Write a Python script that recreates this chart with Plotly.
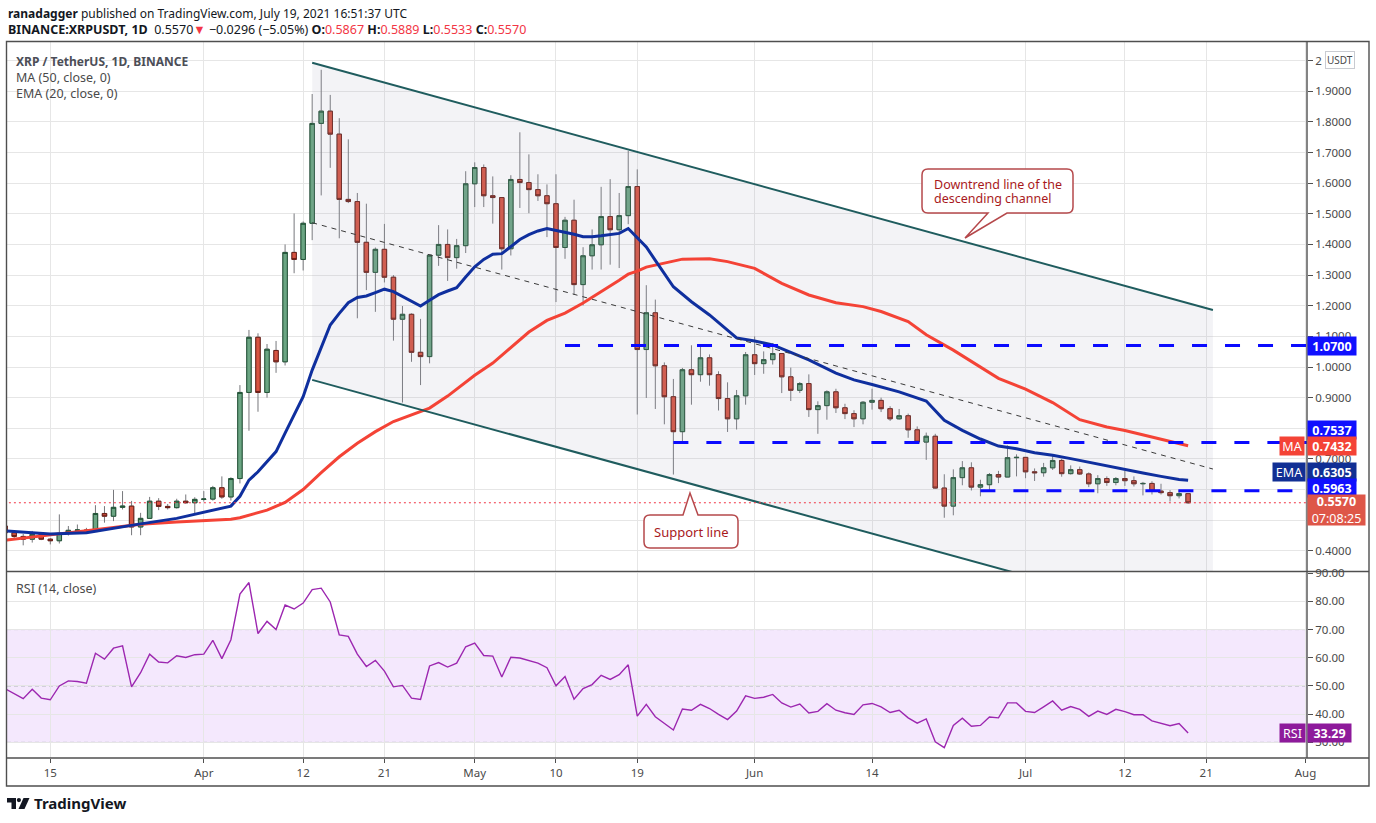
import pandas as pd
import plotly.graph_objects as go

# daily candles BINANCE:XRPUSDT, 2021-03-10 .. 2021-07-19
opens = [
    0.481, 0.459, 0.447, 0.438, 0.454, 0.438, 0.433, 0.457, 0.467, 0.468, 0.463,
    0.522, 0.513, 0.542, 0.546, 0.478, 0.506, 0.562, 0.545, 0.541, 0.562, 0.557,
    0.568, 0.569, 0.606, 0.576, 0.636, 0.917, 1.097, 0.917, 1.054, 1.017, 1.374,
    1.351, 1.469, 1.795, 1.835, 1.760, 1.547, 1.540, 1.407, 1.309, 1.384, 1.293,
    1.156, 1.172, 1.048, 1.034, 1.365, 1.400, 1.357, 1.396,
    1.598, 1.651, 1.559, 1.553, 1.386, 1.612, 1.602, 1.579, 1.559, 1.533, 1.390,
    1.479, 1.269, 1.363, 1.399, 1.491, 1.448, 1.494, 1.589, 1.057, 1.177, 1.004,
    0.903, 0.789, 0.991, 0.975, 1.030, 0.975, 0.897, 0.831, 0.906,
    1.040, 1.011, 1.024, 1.044, 0.968, 0.924, 0.946, 0.861, 0.874, 0.919, 0.867,
    0.848, 0.831, 0.885, 0.891, 0.864, 0.831, 0.841, 0.795, 0.755, 0.774, 0.605,
    0.546, 0.639, 0.671, 0.608, 0.616, 0.649, 0.641, 0.704,
    0.705, 0.658, 0.655, 0.671, 0.695, 0.652, 0.665, 0.651, 0.619, 0.636, 0.623,
    0.636, 0.629, 0.619, 0.620, 0.595, 0.590, 0.580, 0.5867,
]
highs = [
    0.488, 0.465, 0.455, 0.465, 0.460, 0.442, 0.519, 0.481, 0.486, 0.475, 0.549,
    0.546, 0.599, 0.595, 0.563, 0.524, 0.576, 0.572, 0.553, 0.570, 0.584, 0.575,
    0.595, 0.612, 0.643, 0.640, 0.941, 1.121, 1.110, 1.075, 1.085, 1.400, 1.501,
    1.475, 1.891, 1.970, 1.888, 1.812, 1.743, 1.568, 1.533, 1.390, 1.467, 1.300,
    1.199, 1.175, 1.157, 1.365, 1.463, 1.449, 1.418, 1.639,
    1.668, 1.661, 1.622, 1.553, 1.626, 1.766, 1.694, 1.629, 1.596, 1.629, 1.490,
    1.546, 1.391, 1.449, 1.588, 1.613, 1.568, 1.705, 1.645, 1.267, 1.220, 1.015,
    0.961, 0.997, 1.071, 1.071, 1.041, 0.986, 0.950, 0.925, 1.049,
    1.100, 1.051, 1.078, 1.044, 0.998, 0.951, 0.976, 0.888, 0.924, 0.929, 0.880,
    0.859, 0.889, 0.929, 0.900, 0.872, 0.863, 0.848, 0.806, 0.786, 0.782, 0.650,
    0.666, 0.693, 0.689, 0.632, 0.654, 0.661, 0.744, 0.715,
    0.705, 0.669, 0.687, 0.714, 0.700, 0.679, 0.675, 0.656, 0.647, 0.643, 0.641,
    0.661, 0.643, 0.625, 0.627, 0.619, 0.598, 0.600, 0.5889,
]
lows = [
    0.452, 0.440, 0.418, 0.427, 0.435, 0.421, 0.424, 0.450, 0.460, 0.455, 0.463,
    0.492, 0.497, 0.535, 0.451, 0.451, 0.506, 0.533, 0.535, 0.538, 0.554, 0.522,
    0.561, 0.564, 0.570, 0.564, 0.620, 0.792, 0.854, 0.900, 0.981, 1.005, 1.306,
    1.315, 1.414, 1.560, 1.650, 1.420, 1.535, 1.159, 1.251, 1.180, 1.276, 1.086,
    0.884, 1.017, 0.941, 1.012, 1.330, 1.281, 1.321, 1.372,
    1.522, 1.522, 1.468, 1.318, 1.364, 1.519, 1.502, 1.542, 1.424, 1.212, 1.353,
    1.235, 1.201, 1.318, 1.318, 1.334, 1.323, 1.466, 0.845, 0.899, 0.863, 0.813,
    0.649, 0.758, 0.877, 0.952, 0.939, 0.858, 0.788, 0.796, 0.877,
    0.974, 0.978, 1.008, 0.915, 0.889, 0.915, 0.837, 0.782, 0.828, 0.850, 0.830,
    0.804, 0.813, 0.861, 0.853, 0.824, 0.828, 0.769, 0.752, 0.697, 0.603, 0.508,
    0.516, 0.614, 0.597, 0.578, 0.594, 0.621, 0.641, 0.643,
    0.637, 0.628, 0.642, 0.664, 0.642, 0.649, 0.648, 0.608, 0.588, 0.612, 0.614,
    0.612, 0.610, 0.581, 0.584, 0.584, 0.561, 0.571, 0.5533,
]
closes = [
    0.459, 0.447, 0.438, 0.454, 0.438, 0.433, 0.457, 0.467, 0.468, 0.463, 0.522,
    0.513, 0.542, 0.546, 0.478, 0.506, 0.562, 0.545, 0.541, 0.562, 0.557, 0.568,
    0.569, 0.606, 0.576, 0.636, 0.917, 1.097, 0.917, 1.058, 1.017, 1.374, 1.351,
    1.469, 1.795, 1.835, 1.760, 1.547, 1.540, 1.407, 1.309, 1.384, 1.293, 1.156,
    1.172, 1.048, 1.034, 1.365, 1.400, 1.357, 1.396, 1.598,
    1.651, 1.559, 1.553, 1.386, 1.612, 1.602, 1.579, 1.559, 1.533, 1.390, 1.479,
    1.269, 1.363, 1.399, 1.491, 1.448, 1.494, 1.589, 1.057, 1.177, 1.004, 0.903,
    0.789, 0.991, 0.975, 1.030, 0.975, 0.897, 0.831, 0.906, 1.040,
    1.011, 1.024, 1.044, 0.968, 0.924, 0.946, 0.861, 0.874, 0.919, 0.867, 0.848,
    0.831, 0.885, 0.891, 0.864, 0.831, 0.841, 0.795, 0.755, 0.774, 0.605, 0.546,
    0.639, 0.671, 0.608, 0.616, 0.649, 0.641, 0.704, 0.705,
    0.658, 0.655, 0.671, 0.695, 0.652, 0.665, 0.651, 0.619, 0.636, 0.623, 0.636,
    0.629, 0.619, 0.620, 0.595, 0.590, 0.580, 0.587, 0.5570,
]
rsi_values = [
    49.0, 47.2, 45.5, 48.8, 45.7, 45.1, 50.0, 51.8, 51.6, 51.0, 61.6, 59.5, 63.4,
    64.2, 49.7, 54.7, 61.3, 58.5, 58.2, 60.7, 60.1, 61.1,
    61.3, 66.2, 59.7, 66.4, 82.6, 86.7, 68.6, 72.9, 70.0, 78.7, 77.3, 79.4, 84.2,
    84.7, 79.8, 68.1, 67.6, 61.3, 56.9, 59.1, 55.3, 49.7, 50.2, 45.7, 45.2, 57.1,
    58.3, 56.7, 58.1, 63.9,
    65.2, 60.8, 60.6, 53.2, 60.2, 59.9, 59.0, 58.1, 56.5, 50.1, 53.4, 45.3, 49.1,
    50.5, 53.8, 52.3, 54.0, 57.5, 39.3, 43.5, 39.1, 36.7, 34.4, 41.8, 41.4, 43.5,
    42.0, 39.9, 38.1, 41.1, 46.5,
    45.6, 46.0, 47.0, 44.0, 42.5, 43.6, 40.4, 41.0, 43.7, 41.4, 40.5, 39.9, 43.3,
    43.8, 42.6, 40.6, 41.4, 38.7, 36.8, 38.3, 30.2, 28.1, 36.0, 38.6, 35.7, 36.0,
    39.0, 38.7, 44.0, 44.0,
    41.0, 40.6, 42.6, 44.7, 41.4, 42.7, 41.7, 39.2, 41.1, 39.9, 41.7, 40.9, 39.8,
    39.8, 37.6, 36.7, 35.9, 36.7, 33.29,
]
dates = pd.date_range("2021-03-10", "2021-07-19", freq="D")

# EMA 20 and MA 50 as drawn on the chart
ema_dates = [
    "2021-03-10", "2021-03-15", "2021-03-19", "2021-03-22", "2021-03-25", "2021-03-29",
    "2021-04-01", "2021-04-04", "2021-04-05", "2021-04-06", "2021-04-07", "2021-04-09",
    "2021-04-10", "2021-04-11", "2021-04-12", "2021-04-13", "2021-04-14", "2021-04-15",
    "2021-04-16", "2021-04-17", "2021-04-18", "2021-04-19", "2021-04-20", "2021-04-21",
    "2021-04-22", "2021-04-23", "2021-04-24", "2021-04-25", "2021-04-26", "2021-04-27",
    "2021-04-28", "2021-04-29", "2021-04-30", "2021-05-01", "2021-05-02", "2021-05-03",
    "2021-05-04", "2021-05-05", "2021-05-06", "2021-05-07", "2021-05-08", "2021-05-09",
    "2021-05-10", "2021-05-11", "2021-05-12", "2021-05-13", "2021-05-14", "2021-05-15",
    "2021-05-16", "2021-05-17", "2021-05-18", "2021-05-19", "2021-05-20", "2021-05-21",
    "2021-05-22", "2021-05-23", "2021-05-25", "2021-05-27", "2021-05-30", "2021-06-01",
    "2021-06-03", "2021-06-07", "2021-06-10", "2021-06-12", "2021-06-14", "2021-06-17",
    "2021-06-20", "2021-06-22", "2021-06-24", "2021-06-26", "2021-06-28", "2021-06-30",
    "2021-07-02", "2021-07-04", "2021-07-06", "2021-07-08", "2021-07-10", "2021-07-12",
    "2021-07-14", "2021-07-16", "2021-07-18", "2021-07-19",
]
ema_values = [
    0.465, 0.455, 0.459, 0.474, 0.488, 0.506,
    0.525, 0.546, 0.578, 0.631, 0.658, 0.724,
    0.784, 0.843, 0.903, 0.990, 1.066, 1.137,
    1.175, 1.210, 1.227, 1.232, 1.243, 1.254,
    1.246, 1.230, 1.213, 1.199, 1.218, 1.236,
    1.248, 1.259, 1.294, 1.327, 1.351, 1.368,
    1.370, 1.394, 1.416, 1.432, 1.444, 1.452,
    1.446, 1.438, 1.433, 1.425, 1.425, 1.428,
    1.433, 1.436, 1.452, 1.423, 1.392, 1.348,
    1.305, 1.262, 1.213, 1.170, 1.095, 1.085,
    1.072, 1.023, 0.980, 0.958, 0.943, 0.919,
    0.889, 0.826, 0.793, 0.765, 0.742, 0.733,
    0.720, 0.712, 0.701, 0.689, 0.676, 0.666,
    0.654, 0.643, 0.633, 0.6305,
]
ma_dates = [
    "2021-03-10", "2021-03-15", "2021-03-19", "2021-03-22", "2021-03-25", "2021-03-29",
    "2021-04-01", "2021-04-04", "2021-04-05", "2021-04-06", "2021-04-08", "2021-04-10",
    "2021-04-12", "2021-04-14", "2021-04-16", "2021-04-18", "2021-04-20", "2021-04-22",
    "2021-04-24", "2021-04-26", "2021-04-28", "2021-05-01", "2021-05-03", "2021-05-05",
    "2021-05-07", "2021-05-09", "2021-05-11", "2021-05-13", "2021-05-15", "2021-05-17",
    "2021-05-18", "2021-05-19", "2021-05-20", "2021-05-22", "2021-05-24", "2021-05-27",
    "2021-05-29", "2021-06-01", "2021-06-04", "2021-06-07", "2021-06-10", "2021-06-13",
    "2021-06-15", "2021-06-18", "2021-06-20", "2021-06-23", "2021-06-26", "2021-06-28",
    "2021-07-01", "2021-07-04", "2021-07-07", "2021-07-10", "2021-07-12", "2021-07-14",
    "2021-07-16", "2021-07-18", "2021-07-19",
]
ma_values = [
    0.435, 0.451, 0.466, 0.476, 0.487, 0.494,
    0.499, 0.503, 0.508, 0.517, 0.533, 0.558,
    0.600, 0.655, 0.707, 0.751, 0.789, 0.822,
    0.843, 0.866, 0.905, 0.973, 1.013, 1.065,
    1.114, 1.152, 1.176, 1.209, 1.245, 1.283,
    1.303, 1.313, 1.326, 1.340, 1.352, 1.353,
    1.344, 1.322, 1.273, 1.235, 1.210, 1.197,
    1.181, 1.148, 1.105, 1.055, 1.001, 0.963,
    0.928, 0.884, 0.828, 0.804, 0.793, 0.779,
    0.763, 0.750, 0.7432,
]

# drawings: descending channel, its mid line and the horizontal levels
channel_dates = ["2021-04-13", "2021-07-21 18:00"]
channel_upper = [1.993, 1.186]
channel_lower = [0.958, 0.151]
channel_mid = [1.471, 0.667]
level_values = [1.07, 0.7537, 0.5963]
level_starts = ["2021-05-11", "2021-05-23", "2021-06-26"]
last_price, last_ma, last_ema, last_rsi = 0.5570, 0.7432, 0.6305, 33.29

tick_dates = ["2021-03-15", "2021-04-01", "2021-04-12", "2021-04-21", "2021-05-01",
              "2021-05-10", "2021-05-19", "2021-06-01", "2021-06-14", "2021-07-01",
              "2021-07-12", "2021-07-21", "2021-08-01"]
tick_labels = ["15", "Apr", "12", "21", "May", "10", "19", "Jun", "14", "Jul",
               "12", "21", "Aug"]
price_ticks = [0.4, 0.5, 0.6, 0.7, 0.8, 0.9, 1.0, 1.1, 1.2, 1.3, 1.4, 1.5, 1.6,
               1.7, 1.8, 1.9, 2.0]
# labels that sit under the price-scale boxes are not readable in the chart
price_tick_text = ["0.4000", "", "", "0.7000", "", "0.9000", "1.0000", "1.1000",
                   "1.2000", "1.3000", "1.4000", "1.5000", "1.6000", "1.7000",
                   "1.8000", "1.9000", "2"]
rsi_ticks = [30, 40, 50, 60, 70, 80, 90]

FONT = "Noto Sans"
GRID = "#e6e6e6"
FRAME = "#4f4f4f"
TEXT = "#4a4a4a"
X_RANGE = ["2021-03-10 04:55", "2021-08-01 04:00"]

# page pixels of the plotting area
L_PX, R_PX, T_PX, B_PX = 7, 1307, 42, 758
SPLIT_PX = 571.5


def fx(px):
    return (px - L_PX) / (R_PX - L_PX)


def fy(py):
    return (B_PX - py) / (B_PX - T_PX)


def callout_path(x0, y0, x1, y1, base, tip, r=6):
    """Rounded box with a triangular pointer; pointer on bottom edge if tip is below."""
    pts = []
    down = tip[1] > y1
    pts.append(("M", x0 + r, y0))
    if not down:
        pts += [("L", base[0], y0), ("L", tip[0], tip[1]), ("L", base[1], y0)]
    pts.append(("L", x1 - r, y0))
    pts.append(("Q", x1, y0, x1, y0 + r))
    pts.append(("L", x1, y1 - r))
    pts.append(("Q", x1, y1, x1 - r, y1))
    if down:
        pts += [("L", base[1], y1), ("L", tip[0], tip[1]), ("L", base[0], y1)]
    pts.append(("L", x0 + r, y1))
    pts.append(("Q", x0, y1, x0, y1 - r))
    pts.append(("L", x0, y0 + r))
    pts.append(("Q", x0, y0, x0 + r, y0))
    out = []
    for p in pts:
        cmd, vals = p[0], p[1:]
        coords = []
        for i in range(0, len(vals), 2):
            coords.append(f"{fx(vals[i]):.5f},{fy(vals[i + 1]):.5f}")
        out.append(cmd + " ".join(coords))
    return " ".join(out) + " Z"


def poly_path(points):
    return "M" + " L".join(f"{fx(x):.5f},{fy(y):.5f}" for x, y in points) + " Z"


fig = go.Figure()

# channel shading
fig.add_trace(go.Scatter(
    x=[channel_dates[0], channel_dates[1], channel_dates[1], channel_dates[0]],
    y=[channel_upper[0], channel_upper[1], channel_lower[1], channel_lower[0]],
    fill="toself", fillcolor="rgba(160,165,185,0.13)", mode="none",
    hoverinfo="skip", showlegend=False))

# candles: grey wicks first, coloured bodies on top
body_top = [max(o, c) for o, c in zip(opens, closes)]
body_bottom = [min(o, c) for o, c in zip(opens, closes)]
wick_style = dict(line=dict(color="#77787c", width=1), fillcolor="rgba(0,0,0,0)")
fig.add_trace(go.Candlestick(
    x=dates, open=opens, high=highs, low=lows, close=closes,
    increasing=wick_style, decreasing=wick_style, hoverinfo="skip", showlegend=False))
fig.add_trace(go.Candlestick(
    x=dates, open=opens, high=body_top, low=body_bottom, close=closes,
    increasing=dict(line=dict(color="#225437", width=1), fillcolor="#6ba583"),
    decreasing=dict(line=dict(color="#6b1f17", width=1), fillcolor="#d75442"),
    whiskerwidth=0, hoverinfo="skip", showlegend=False))

# moving averages
fig.add_trace(go.Scatter(x=ma_dates, y=ma_values, mode="lines",
                         line=dict(color="#f44336", width=3), hoverinfo="skip",
                         showlegend=False))
fig.add_trace(go.Scatter(x=ema_dates, y=ema_values, mode="lines",
                         line=dict(color="#0f2f9e", width=3), hoverinfo="skip",
                         showlegend=False))

# channel lines and dashed mid line
for ys in (channel_upper, channel_lower):
    fig.add_trace(go.Scatter(x=channel_dates, y=ys, mode="lines",
                             line=dict(color="#1f5c5e", width=2), hoverinfo="skip",
                             showlegend=False))
fig.add_trace(go.Scatter(x=channel_dates, y=channel_mid, mode="lines",
                         line=dict(color="#3a3a3a", width=1, dash="5px,5px"),
                         hoverinfo="skip", showlegend=False))

# horizontal levels
for val, start in zip(level_values, level_starts):
    fig.add_trace(go.Scatter(x=[start, "2021-08-03"], y=[val, val], mode="lines",
                             line=dict(color="#0a0aff", width=3, dash="15px,18px"),
                             hoverinfo="skip", showlegend=False))
fig.add_trace(go.Scatter(x=["2021-03-01", "2021-08-03"], y=[last_price, last_price],
                         mode="lines", line=dict(color="#f23645", width=1.2, dash="2px,3px"),
                         hoverinfo="skip", showlegend=False))

# RSI pane
fig.add_trace(go.Scatter(x=dates, y=rsi_values, mode="lines", xaxis="x2", yaxis="y2",
                         line=dict(color="#9c27b0", width=1.4), hoverinfo="skip",
                         showlegend=False))

shapes = [
    dict(type="rect", xref="paper", yref="y2", x0=0, x1=1, y0=30, y1=70,
         fillcolor="rgba(170,80,240,0.13)", line=dict(width=0), layer="between"),
]
for lvl in (30, 50, 70):
    shapes.append(dict(type="line", xref="paper", yref="y2", x0=0, x1=1, y0=lvl, y1=lvl,
                       line=dict(color="#acaeb6", width=1, dash="4px,3px"), layer="between"))

# frame
frame = dict(color=FRAME, width=1.4)
shapes += [
    dict(type="rect", xref="paper", yref="paper", x0=fx(6.5), x1=fx(1369),
         y0=fy(786), y1=fy(41.5), line=frame),
    dict(type="line", xref="paper", yref="paper", x0=fx(6.5), x1=fx(1369),
         y0=fy(SPLIT_PX), y1=fy(SPLIT_PX), line=frame),
    dict(type="line", xref="paper", yref="paper", x0=fx(6.5), x1=fx(1369),
         y0=fy(758), y1=fy(758), line=frame),
    dict(type="line", xref="paper", yref="paper", x0=fx(1307), x1=fx(1307),
         y0=fy(758), y1=fy(41.5), line=frame),
]

# callouts
callout_line = dict(color="#b5484b", width=1.5)
shapes.append(dict(type="path", xref="paper", yref="paper", fillcolor="white",
                   line=callout_line,
                   path=callout_path(922, 169, 1073, 213, (988, 1007), (965, 238))))
shapes.append(dict(type="path", xref="paper", yref="paper", fillcolor="white",
                   line=callout_line,
                   path=callout_path(644, 515, 738, 548, (683, 698), (690, 493))))

# TradingView logo
shapes.append(dict(type="path", xref="paper", yref="paper", fillcolor="#131722",
                   line=dict(width=0),
                   path=poly_path([(7, 798), (16, 798), (16, 809), (11.5, 809),
                                   (11.5, 802.5), (7, 802.5)])))
shapes.append(dict(type="circle", xref="paper", yref="paper", fillcolor="#131722",
                   line=dict(width=0), x0=fx(16.8), x1=fx(21), y0=fy(802.2), y1=fy(798)))
shapes.append(dict(type="path", xref="paper", yref="paper", fillcolor="#131722",
                   line=dict(width=0),
                   path=poly_path([(23.5, 798), (29.5, 798), (24.5, 809), (18.5, 809)])))

annotations = []


def text(px, py, s, size=13, color=TEXT, anchor="left", **kw):
    annotations.append(dict(x=fx(px), y=fy(py), xref="paper", yref="paper", text=s,
                            showarrow=False, xanchor=anchor, yanchor="middle",
                            font=dict(family=FONT, size=size, color=color), **kw))


RED = "#f23645"
text(6, 13, "<b>ranadagger</b> published on TradingView.com, July 19, 2021 16:51:37 UTC",
     size=12, color="#131722")
text(6, 29, "<b>BINANCE:XRPUSDT, 1D</b>  0.5570"
     f"<span style='color:{RED}'>▼</span> −0.0296 (−5.05%) "
     f"<b>O:</b><span style='color:{RED}'>0.5867</span> "
     f"<b>H:</b><span style='color:{RED}'>0.5889</span> "
     f"<b>L:</b><span style='color:{RED}'>0.5533</span> "
     f"<b>C:</b><span style='color:{RED}'>0.5570</span>",
     size=12.5, color="#131722")
text(14, 61, "<b>XRP / TetherUS, 1D, BINANCE</b>", size=12, color="#4c4e57")
text(14, 77.5, "MA (50, close, 0)", size=12.5)
text(14, 94, "EMA (20, close, 0)", size=12.5)
text(14, 588, "RSI (14, close)", size=12.5)
text(32, 803.5, "<b>TradingView</b>", size=15, color="#131722")
text(932, 184, "Downtrend line of the", size=12.5, color="#a8191c")
text(932, 198, "descending channel", size=12.5, color="#a8191c")
text(691, 531.5, "Support line", size=13, color="#a8191c", anchor="center")

# USDT box on the price scale
annotations.append(dict(x=fx(1325), y=fy(59.5), xref="paper", yref="paper", text="USDT",
                        showarrow=False, xanchor="left", yanchor="middle",
                        font=dict(family=FONT, size=10, color="#4a4a4a"),
                        bgcolor="white", bordercolor="#c9cbd1", borderwidth=1,
                        borderpad=1))


def scale_label(value, s, color, yref="y", shift=0, px_left=1307, w=44, h=14,
                anchor="left", yanchor="middle"):
    annotations.append(dict(x=fx(px_left), y=value, xref="paper", yref=yref, text=s,
                            showarrow=False, xanchor=anchor, yanchor=yanchor,
                            yshift=shift, width=w, height=h, bgcolor=color,
                            borderpad=2, align="center",
                            font=dict(family=FONT, size=12.5, color="white")))


BLUE = "#1010ff"
scale_label(1.07, "<b>1.0700</b>", BLUE)
scale_label(level_values[1], "<b>0.7537</b>", BLUE, shift=12)
scale_label(last_ma, "<b>0.7432</b>", "#f44336")
scale_label(last_ma, "MA", "#f44336", px_left=1305, w=20, anchor="right")
scale_label(last_ema, "<b>0.6305</b>", "#112f94", shift=8)
scale_label(last_ema, "EMA", "#112f94", shift=8, px_left=1305.5, w=28, anchor="right")
scale_label(level_values[2], "<b>0.5963</b>", BLUE, shift=2.5)
scale_label(last_price, "<b>0.5570</b><br>07:08:25", "#de5648", shift=9, w=53, h=26,
            yanchor="top")
scale_label(last_rsi, "<b>33.29</b>", "#8e1a9b", yref="y2", w=39)
scale_label(last_rsi, "RSI", "#8e1a9b", yref="y2", px_left=1305.5, w=21, anchor="right")

axis_font = dict(family=FONT, size=11.5, color=TEXT)
fig.update_layout(
    width=1376, height=823, autosize=False,
    margin=dict(l=L_PX, r=1376 - R_PX, t=T_PX, b=823 - B_PX, pad=0),
    paper_bgcolor="white", plot_bgcolor="white",
    showlegend=False, hovermode=False,
    xaxis=dict(type="date", range=X_RANGE, domain=[0, 1], anchor="y",
               rangeslider=dict(visible=False), tickvals=tick_dates,
               showticklabels=False, showgrid=True, gridcolor=GRID, gridwidth=1,
               zeroline=False, ticks=""),
    xaxis2=dict(type="date", range=X_RANGE, domain=[0, 1], anchor="y2", matches="x",
                tickvals=tick_dates, ticktext=tick_labels, tickfont=axis_font,
                showgrid=True, gridcolor=GRID, gridwidth=1, zeroline=False,
                ticks="outside", ticklen=4, tickcolor=FRAME),
    yaxis=dict(domain=[fy(SPLIT_PX), 1], range=[0.3326, 2.0607], side="right",
               anchor="x", tickvals=price_ticks, ticktext=price_tick_text,
               tickfont=axis_font, ticks="outside", ticklen=5, tickcolor=FRAME,
               showgrid=True, gridcolor=GRID, gridwidth=1, zeroline=False),
    yaxis2=dict(domain=[0, fy(SPLIT_PX + 1)], range=[24.45, 90.25], side="right",
                anchor="x2", tickvals=rsi_ticks,
                ticktext=[f"{v:.2f}" for v in rsi_ticks], tickfont=axis_font,
                ticks="outside", ticklen=5, tickcolor=FRAME,
                showgrid=True, gridcolor=GRID, gridwidth=1, zeroline=False),
    shapes=shapes,
    annotations=annotations,
)

fig.write_html("out.html", config={"displayModeBar": False},
               post_script="document.body.style.margin='0';"
                           "document.body.style.overflow='hidden';")
